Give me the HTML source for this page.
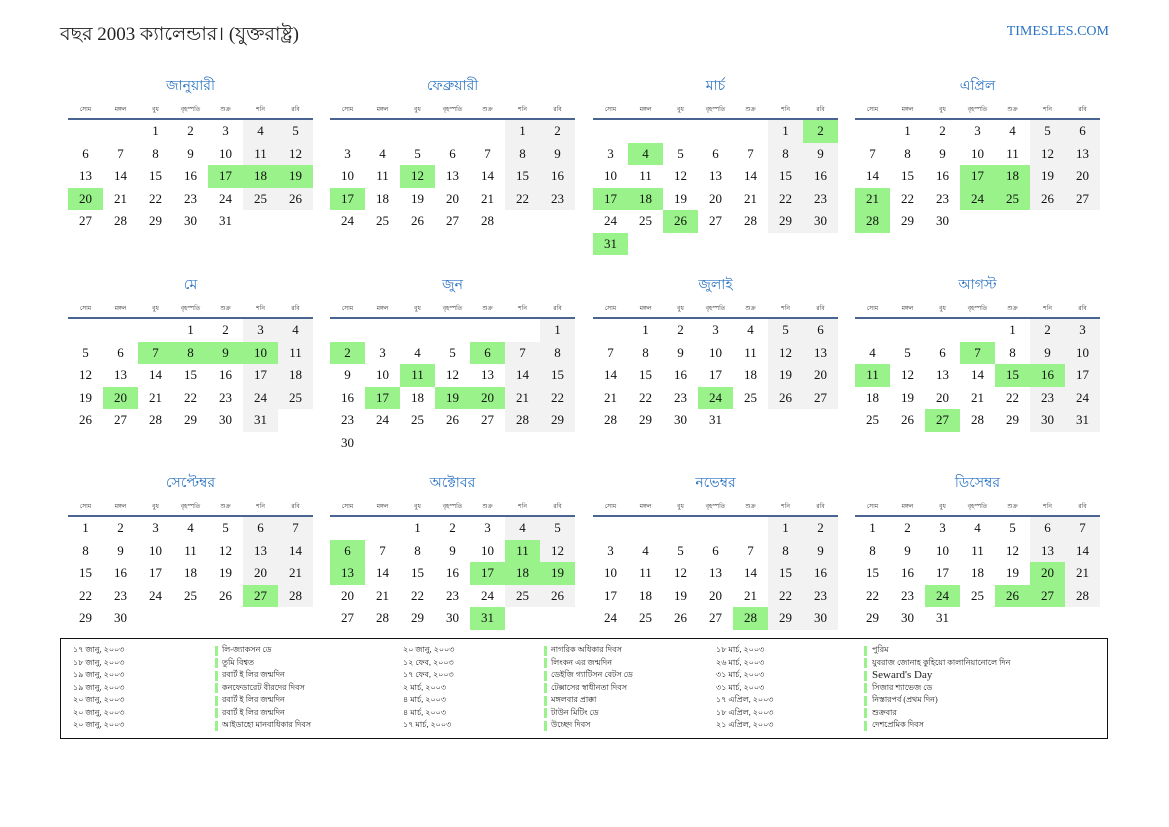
<!DOCTYPE html>
<html><head><meta charset="utf-8">
<style>
body{margin:0;background:#fff;width:1169px;height:827px;position:relative;overflow:hidden;font-family:"Liberation Serif","Noto Sans CJK SC",serif;}
.a{position:absolute;}
.t{font-size:19px;color:#222;left:60px;top:20px;}
.site{right:60px;top:24px;color:#2a73c2;font-size:14px;}
.mt{color:#2a73c2;font-size:14px;text-align:center;width:245px;}
.dh{font-size:6px;color:#333;text-align:center;width:35px;}
.ln{height:2px;background:#4a6491;width:245px;}
.c{width:35px;height:22.5px;line-height:22.5px;text-align:center;font-size:13px;color:#111;}
.w{background:#f2f2f2;}
.g{background:#99f28a;}
.lg{font-size:8px;color:#222;line-height:12.5px;white-space:nowrap;}
.bar{width:3px;height:10px;background:#99f28a;}
</style></head><body>
<div class="a t">বছর 2003 ক্যালেন্ডার। (যুক্তরাষ্ট্র)</div>
<div class="a site">TIMESLES.COM</div>
<div class="a" style="left:60px;top:638px;width:1048px;height:101px;border:1.5px solid #111;box-sizing:border-box;"></div>
<div id="r"></div>
<script>
var names=["জানুয়ারী","ফেব্রুয়ারী","মার্চ","এপ্রিল","মে","জুন","জুলাই","আগস্ট","সেপ্টেম্বর","অক্টোবর","নভেম্বর","ডিসেম্বর"];
var dn=["সোম","মঙ্গল","বুধ","বৃহস্পতি","শুক্র","শনি","রবি"];
var hol=[[17,18,19,20],[12,17],[2,4,17,18,26,31],[17,18,21,24,25,28],[7,8,9,10,20],[2,6,11,17,19,20],[24],[7,11,15,16,27],[27],[6,11,13,17,18,19,31],[28],[20,24,26,27]];
var xs=[68,330,593,855],ys=[0,199,397];
var h="";
for(var m=0;m<12;m++){
 var X=xs[m%4],Y=ys[Math.floor(m/4)];
 h+='<div class="a mt" style="left:'+X+'px;top:'+(Y+74)+'px">'+names[m]+'</div>';
 for(var i=0;i<7;i++)h+='<div class="a dh" style="left:'+(X+i*35)+'px;top:'+(Y+104)+'px">'+dn[i]+'</div>';
 h+='<div class="a ln" style="left:'+X+'px;top:'+(Y+118)+'px"></div>';
 var first=(new Date(Date.UTC(2003,m,1)).getUTCDay()+6)%7;
 var nd=new Date(Date.UTC(2003,m+1,0)).getUTCDate();
 for(var d=1;d<=nd;d++){
  var p=first+d-1,col=p%7,row=Math.floor(p/7);
  var cl="c";
  if(hol[m].indexOf(d)>=0)cl+=" g";else if(col>=5)cl+=" w";
  h+='<div class="a '+cl+'" style="left:'+(X+col*35)+'px;top:'+(Y+120+row*22.5)+'px">'+d+'</div>';
 }
}
var L=[["১৭ জানু, ২০০৩","লি-জ্যাকসন ডে","২০ জানু, ২০০৩","নাগরিক অধিকার দিবস","১৮ মার্চ, ২০০৩","পুরিম"],
["১৮ জানু, ২০০৩","তুমি বিশ্বত","১২ ফেব, ২০০৩","লিংকন এর জন্মদিন","২৬ মার্চ, ২০০৩","যুবরাজ জোনাহ কুহিয়ো কালানিয়ানোলে দিন"],
["১৯ জানু, ২০০৩","রবার্ট ই লির জন্মদিন","১৭ ফেব, ২০০৩","ডেইজি গ্যাটিসন বেটস ডে","৩১ মার্চ, ২০০৩","Seward's Day"],
["১৯ জানু, ২০০৩","কনফেডারেট বীরদের দিবস","২ মার্চ, ২০০৩","টেক্সাসের স্বাধীনতা দিবস","৩১ মার্চ, ২০০৩","সিজার শ্যাভেজ ডে"],
["২০ জানু, ২০০৩","রবার্ট ই লির জন্মদিন","৪ মার্চ, ২০০৩","মঙ্গলবার প্রাক্কা","১৭ এপ্রিল, ২০০৩","নিস্তারপর্ব (প্রথম দিন)"],
["২০ জানু, ২০০৩","রবার্ট ই লির জন্মদিন","৪ মার্চ, ২০০৩","টাউন মিটিং ডে","১৮ এপ্রিল, ২০০৩","শুক্রবার"],
["২০ জানু, ২০০৩","আইডাহো মানবাধিকার দিবস","১৭ মার্চ, ২০০৩","উচ্ছেদ দিবস","২১ এপ্রিল, ২০০৩","দেশপ্রেমিক দিবস"]];
var cx=[73,222,403,551,716,872],bx=[215,544,864];
for(var r=0;r<7;r++){var y=644+r*12.5;
 for(var k=0;k<6;k++){var fs=(r==2&&k==5)?'font-size:11px;':'';h+='<div class="a lg" style="left:'+cx[k]+'px;top:'+y+'px;'+fs+'">'+L[r][k]+'</div>';}
 for(var k=0;k<3;k++)h+='<div class="a bar" style="left:'+bx[k]+'px;top:'+(y+1.5)+'px"></div>';
}
document.getElementById("r").innerHTML=h;
</script>
</body></html>
